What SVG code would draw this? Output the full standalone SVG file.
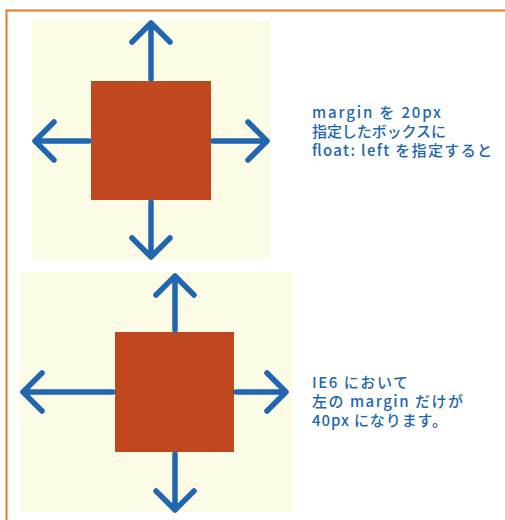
<svg xmlns="http://www.w3.org/2000/svg" width="505" height="520" viewBox="0 0 505 520">
<defs>
<style>
.bg{fill:#FCFBE6}
.box{fill:#C0481E}
.arr{fill:none;stroke:#2166AE;stroke-width:5.5;stroke-linecap:round;stroke-linejoin:round}
.txt{font-family:"Noto Sans CJK JP","Noto Sans",sans-serif;font-size:15px;font-weight:500;fill:#2166AE}
</style>
</defs>
<path d="M6.5,520 V10.5 H505" fill="none" stroke="#E87722" stroke-width="2"/>
<g id="example1">
<rect class="bg" x="32" y="21" width="238" height="238"/>
<rect class="box" x="91" y="81" width="120" height="119"/>
</g>
<g id="example2">
<rect class="bg" x="19" y="272" width="274" height="240"/>
<rect class="box" x="115" y="332" width="119" height="120"/>
</g>
<g id="connectors">
<path class="arr" d="M151,79 V24 M132,42 L151,23 L170,42"/>
<path class="arr" d="M151,202 V256 M132,238 L151,257 L170,238"/>
<path class="arr" d="M89,141 H35 M54,122 L35,141 L54,160"/>
<path class="arr" d="M213,141 H267 M248,122 L267,141 L248,160"/>
<path class="arr" d="M175,330 V277 M156,295 L175,276 L194,295"/>
<path class="arr" d="M175,454 V509 M156,491 L175,510 L194,491"/>
<path class="arr" d="M113,392 H23 M42,373 L23,392 L42,411"/>
<path class="arr" d="M236,392 H286 M267,373 L286,392 L267,411"/>
</g>
<g id="text1">
<text class="txt" x="312" y="118" textLength="129" lengthAdjust="spacing">margin を 20px</text>
<text class="txt" x="312" y="137" textLength="134" lengthAdjust="spacing">指定したボックスに</text>
<text class="txt" x="312" y="156" textLength="180" lengthAdjust="spacing">float: left を指定すると</text>
</g>
<g id="text2">
<text class="txt" x="312" y="388" textLength="96" lengthAdjust="spacing">IE6 において</text>
<text class="txt" x="312" y="407" textLength="151" lengthAdjust="spacing">左の margin だけが</text>
<text class="txt" x="312" y="426" textLength="135" lengthAdjust="spacing">40px になります。</text>
</g>
</svg>
